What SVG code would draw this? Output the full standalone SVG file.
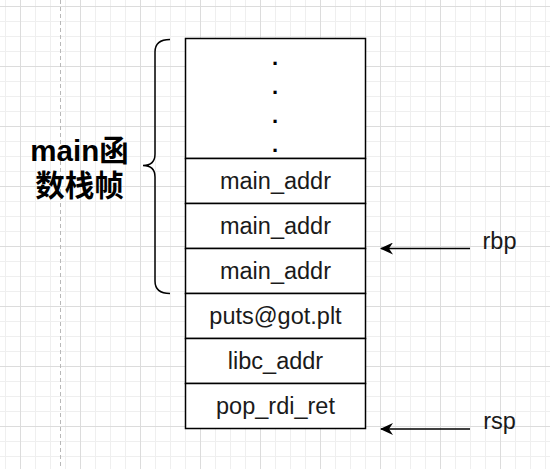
<svg xmlns="http://www.w3.org/2000/svg" width="550" height="469" viewBox="0 0 550 469">
  <style>
    .cell { fill: #ffffff; stroke: #000000; stroke-width: 1.5; }
    .lbl { font-family: "Liberation Sans", Arial, sans-serif; font-size: 23.5px; fill: #1a1a1a; text-anchor: middle; }
    .dot { font-family: "Liberation Sans", Arial, sans-serif; font-size: 22px; font-weight: bold; fill: #000; text-anchor: middle; }
    .title { font-family: "Liberation Sans", "Noto Sans CJK SC", sans-serif; font-size: 29.5px; font-weight: bold; fill: #000; text-anchor: middle; }
    .arrow { stroke: #000; stroke-width: 1.5; fill: none; marker-end: url(#arr); }
  </style>
  <defs>
    <pattern id="minor" x="5" y="6" width="15" height="15" patternUnits="userSpaceOnUse">
      <path d="M0 0.5H15M0.5 0V15" stroke="#efefef" stroke-width="1" fill="none"/>
    </pattern>
    <pattern id="major" x="20" y="6" width="60" height="60" patternUnits="userSpaceOnUse">
      <path d="M0 0.5H60M0.5 0V60" stroke="#dcdcdc" stroke-width="1" fill="none"/>
    </pattern>
    <marker id="arr" viewBox="0 0 13 12" markerWidth="13" markerHeight="12" refX="12" refY="6" orient="auto" markerUnits="userSpaceOnUse">
      <path d="M0,0 L13,6 L0,12 L4,6 Z" fill="#000"/>
    </marker>
  </defs>
  <rect width="550" height="469" fill="#ffffff"/>
  <rect width="550" height="469" fill="url(#minor)"/>
  <rect width="550" height="469" fill="url(#major)"/>
  <line x1="60.5" y1="0" x2="60.5" y2="469" stroke="#b8b8b8" stroke-width="1" stroke-dasharray="4 3"/>

  <g id="frame-label">
    <text class="title" x="79.5" y="161">main函</text>
    <text class="title" x="79.5" y="196">数栈帧</text>
  </g>

  <g id="brace">
    <path d="M170,39.5 Q155,39.5 155,52 L155,154 Q155,165.5 143,165.5 Q155,165.5 155,177 L155,281 Q155,293.5 170,293.5" fill="none" stroke="#000" stroke-width="1.5"/>
  </g>

  <g id="slot-top">
    <rect class="cell" x="185.5" y="38.5" width="180" height="120"/>
    <text class="dot" x="275" y="65">.</text>
    <text class="dot" x="275" y="94">.</text>
    <text class="dot" x="275" y="123">.</text>
    <text class="dot" x="275" y="152">.</text>
  </g>
  <g id="slot-main1">
    <rect class="cell" x="185.5" y="158.5" width="180" height="45"/>
    <text class="lbl" x="275.5" y="189">main_addr</text>
  </g>
  <g id="slot-main2">
    <rect class="cell" x="185.5" y="203.5" width="180" height="45"/>
    <text class="lbl" x="275.5" y="234">main_addr</text>
  </g>
  <g id="slot-main3">
    <rect class="cell" x="185.5" y="248.5" width="180" height="45"/>
    <text class="lbl" x="275.5" y="279">main_addr</text>
  </g>
  <g id="slot-puts">
    <rect class="cell" x="185.5" y="293.5" width="180" height="45"/>
    <text class="lbl" x="275.5" y="324">puts@got.plt</text>
  </g>
  <g id="slot-libc">
    <rect class="cell" x="185.5" y="338.5" width="180" height="45"/>
    <text class="lbl" x="275.5" y="369">libc_addr</text>
  </g>
  <g id="slot-pop">
    <rect class="cell" x="185.5" y="383.5" width="180" height="45"/>
    <text class="lbl" x="275.5" y="414">pop_rdi_ret</text>
  </g>

  <g id="rbp-label">
    <text class="lbl" x="499.5" y="249">rbp</text>
  </g>
  <g id="rsp-label">
    <text class="lbl" x="499.5" y="429">rsp</text>
  </g>

  <g id="connectors">
    <line class="arrow" x1="470" y1="248.5" x2="381" y2="248.5"/>
    <line class="arrow" x1="470" y1="429" x2="381" y2="429"/>
  </g>
</svg>
